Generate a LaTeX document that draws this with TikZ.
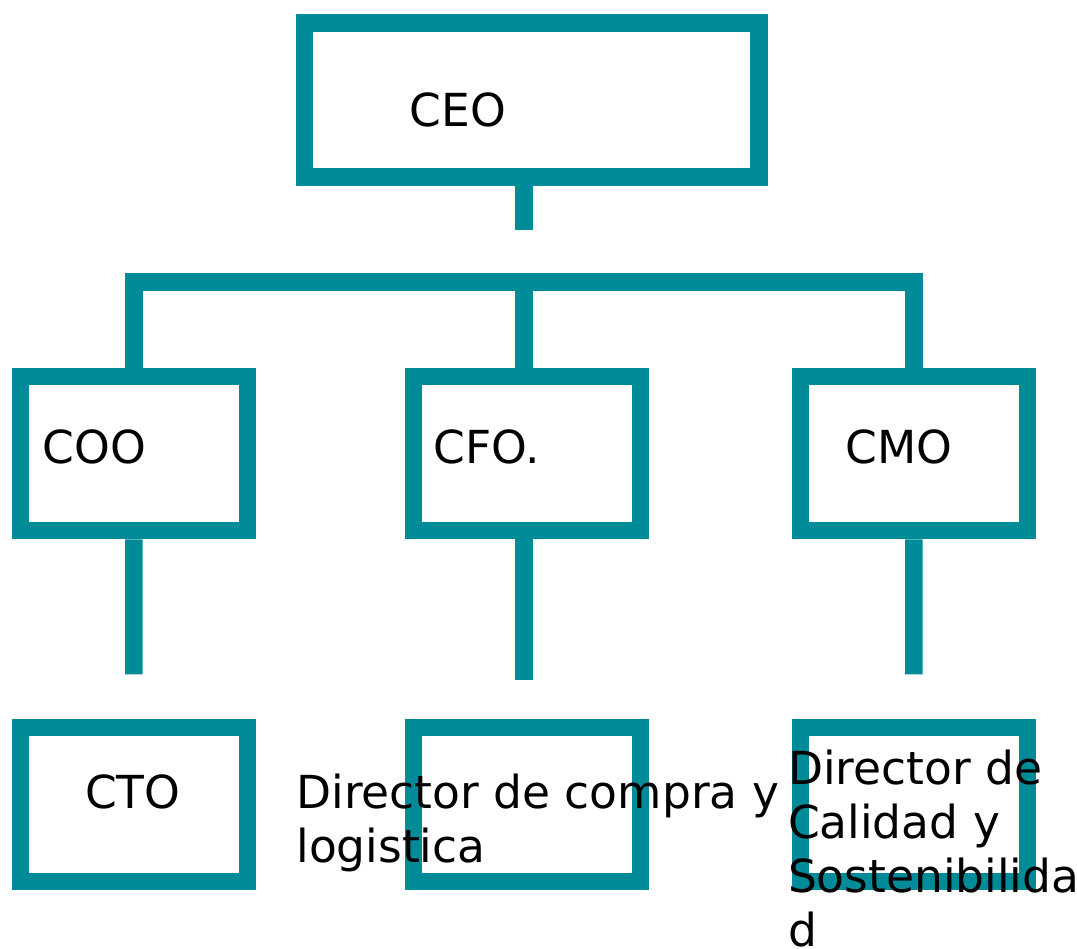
\documentclass[tikz,border=0pt]{standalone}
\usepackage{fontspec}
\setmainfont{DejaVu Sans}
\definecolor{teal}{RGB}{0,139,153}
\begin{document}
\begin{tikzpicture}[x=1pt,y=-1pt,
  box/.style={draw=teal,line width=17.5pt,rectangle,inner sep=0pt,fill=white},
  conn/.style={draw=teal,line width=17.5pt,line join=miter},
  lbl/.style={font=\fontsize{45.5}{54}\selectfont,inner sep=0pt,anchor=base west,align=left,text=black}]
\useasboundingbox (0,0) rectangle (1077,949);
% boxes
\node[box,minimum width=454.5pt,minimum height=154.2pt] (ceo) at (531.5,99.9) {};
\node[box,minimum width=226.8pt,minimum height=154.4pt] (coo) at (133.9,453.5) {};
\node[box,minimum width=226.8pt,minimum height=154.4pt] (cfo) at (527.1,453.5) {};
\node[box,minimum width=226.8pt,minimum height=154.4pt] (cmo) at (913.9,453.5) {};
\node[box,minimum width=226.8pt,minimum height=153.7pt] (cto) at (133.9,804.4) {};
\node[box,minimum width=226.8pt,minimum height=153.7pt] (dcl) at (527.1,804.4) {};
\node[box,minimum width=226.8pt,minimum height=153.7pt] (dcs) at (913.9,804.4) {};
% connectors
\coordinate (bar) at (523.8,282);
\coordinate (ceoend) at (523.8,230);
\coordinate (cooend) at (133.8,674.3);
\coordinate (cfoend) at (523.8,680);
\coordinate (cmoend) at (913.8,674.3);
\draw[conn] (bar |- ceo.south) -- (ceoend);
\draw[conn] (coo.north) |- (bar) -| (cmo.north);
\draw[conn] (bar |- cfo.north) -- (bar);
\draw[conn] (coo.south) -- (cooend);
\draw[conn] (cfoend |- cfo.south) -- (cfoend);
\draw[conn] (cmo.south) -- (cmoend);
% labels
\node[lbl] (tceo) at (409.5,126.7) {CEO};
\node[lbl] (tcoo) at (42.7,464) {COO};
\node[lbl] (tcfo) at (433.3,464) {CFO.};
\node[lbl] (tcmo) at (845.3,464) {CMO};
\node[lbl] (tcto) at (85,808.3) {CTO};
\node[lbl] (tdcl) at (296.2,862.3) {Director de compra y\\logistica};
\node[lbl] (tdcs) at (787.8,946) {Director de\\Calidad y\\Sostenibilida\\d};
\end{tikzpicture}
\end{document}
